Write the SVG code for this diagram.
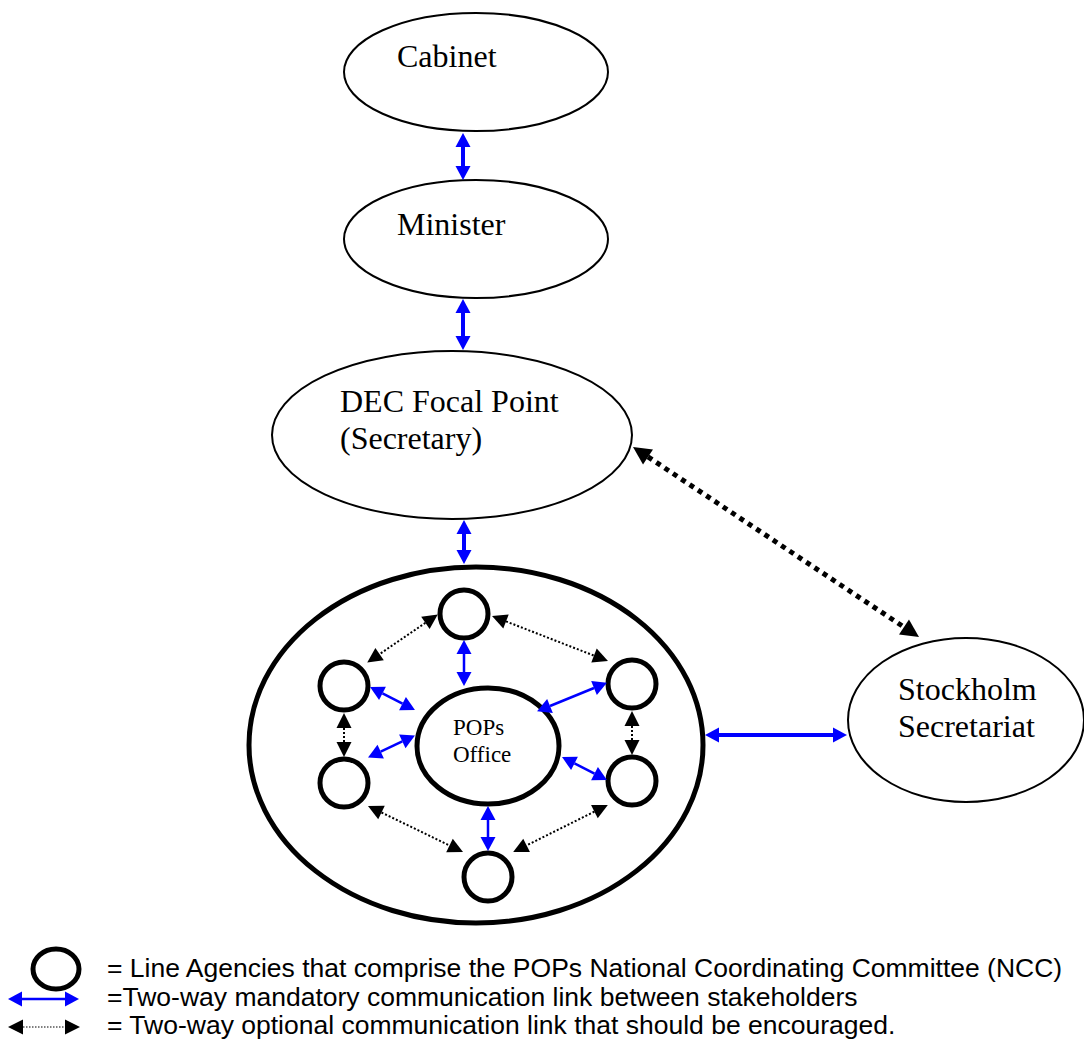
<svg xmlns="http://www.w3.org/2000/svg" width="1084" height="1046" viewBox="0 0 1084 1046">
<style>
.node{fill:#fff;stroke:#000;stroke-width:2}
.thick{fill:#fff;stroke:#000;stroke-width:5}
.lbl{font-family:"Liberation Serif","Times New Roman",serif;font-size:32px;fill:#000}
.small{font-family:"Liberation Serif","Times New Roman",serif;font-size:23px;fill:#000}
.leg{font-family:"Liberation Sans",Arial,sans-serif;font-size:26.5px;fill:#000}
.blue{stroke:#0000ff;stroke-width:4;fill:none;marker-start:url(#bh);marker-end:url(#bh)}
.blue2{stroke:#0000ff;stroke-width:2.5;fill:none;marker-start:url(#bh);marker-end:url(#bh)}
.dot{stroke:#000;stroke-width:2;stroke-dasharray:2 2;fill:none;marker-start:url(#kh);marker-end:url(#kh)}
.bigdot{stroke:#000;stroke-width:5;stroke-dasharray:5 5;fill:none;marker-start:url(#kh2);marker-end:url(#kh2)}
</style>
<defs>
<marker id="bh" markerUnits="userSpaceOnUse" markerWidth="15" markerHeight="15" refX="0" refY="7.5" orient="auto-start-reverse" overflow="visible"><path d="M0,0 L14,7.5 L0,15 z" fill="#0000ff"/></marker>
<marker id="kh" markerUnits="userSpaceOnUse" markerWidth="15" markerHeight="15" refX="0" refY="7.5" orient="auto-start-reverse" overflow="visible"><path d="M0,0 L15,7.5 L0,15 z" fill="#000"/></marker>
<marker id="kh2" markerUnits="userSpaceOnUse" markerWidth="18" markerHeight="18" refX="0" refY="9" orient="auto-start-reverse" overflow="visible"><path d="M0,0 L18,9 L0,18 z" fill="#000"/></marker>
</defs>
<rect width="1084" height="1046" fill="#fff"/>
<g id="cabinet"><ellipse class="node" cx="476" cy="72" rx="132" ry="59"/><text class="lbl" x="397" y="67">Cabinet</text></g>
<g id="minister"><ellipse class="node" cx="476" cy="239" rx="132" ry="59"/><text class="lbl" x="397" y="235">Minister</text></g>
<g id="dec"><ellipse class="node" cx="452" cy="435" rx="180" ry="84"/><text class="lbl" x="340" y="412">DEC Focal Point</text><text class="lbl" x="340" y="449">(Secretary)</text></g>
<g id="stockholm"><ellipse class="node" cx="966" cy="720" rx="118" ry="82"/><text class="lbl" x="898" y="700">Stockholm</text><text class="lbl" x="898" y="737">Secretariat</text></g>
<g id="ncc"><ellipse class="thick" cx="476" cy="745" rx="227" ry="178"/></g>
<g id="pops"><ellipse class="thick" cx="488" cy="746" rx="71" ry="58"/><text class="small" x="453" y="735">POPs</text><text class="small" x="453" y="762">Office</text></g>
<g id="agency-top"><circle class="thick" cx="464" cy="614" r="24"/></g>
<g id="agency-left-upper"><circle class="thick" cx="344" cy="686" r="24"/></g>
<g id="agency-left-lower"><circle class="thick" cx="344" cy="783" r="24"/></g>
<g id="agency-right-upper"><circle class="thick" cx="632" cy="684" r="24"/></g>
<g id="agency-right-lower"><circle class="thick" cx="632" cy="781" r="24"/></g>
<g id="agency-bottom"><circle class="thick" cx="488" cy="877" r="24"/></g>
<g id="connectors">
<line class="blue" x1="463" y1="147" x2="463" y2="166"/>
<line class="blue" x1="463" y1="313" x2="463" y2="336"/>
<line class="blue" x1="464" y1="534" x2="464" y2="550"/>
<line class="blue" x1="719" y1="735" x2="833" y2="735"/>
<line class="blue2" x1="464" y1="654" x2="464" y2="672"/>
<line class="blue2" x1="382.5" y1="693.4" x2="402.5" y2="703.6"/>
<line class="blue2" x1="380.7" y1="751.6" x2="402.3" y2="741.4"/>
<line class="blue2" x1="594" y1="688" x2="550" y2="706"/>
<line class="blue2" x1="574.5" y1="763.4" x2="594.5" y2="773.6"/>
<line class="blue2" x1="488" y1="820" x2="488" y2="837"/>
<line class="dot" x1="425.4" y1="622.9" x2="379.6" y2="654.1"/>
<line class="dot" x1="506" y1="621.4" x2="594" y2="655.6"/>
<line class="dot" x1="344" y1="728" x2="344" y2="742"/>
<line class="dot" x1="632" y1="726" x2="632" y2="740"/>
<line class="dot" x1="381.5" y1="812.5" x2="449.5" y2="845.5"/>
<line class="dot" x1="594.4" y1="811.6" x2="526.6" y2="845.4"/>
<line class="bigdot" x1="648" y1="456.9" x2="904" y2="627.1"/>
</g>
<g id="legend">
<ellipse class="thick" cx="56" cy="969" rx="23" ry="20"/>
<line class="blue2" x1="22" y1="999" x2="65" y2="999"/>
<line stroke="#000" stroke-width="1.2" stroke-dasharray="1.5 1.5" marker-start="url(#kh)" marker-end="url(#kh)" x1="23" y1="1027" x2="65" y2="1027"/>
<text class="leg" x="107" y="977">= Line Agencies that comprise the POPs National Coordinating Committee (NCC)</text>
<text class="leg" x="107" y="1006">=Two-way mandatory communication link between stakeholders</text>
<text class="leg" x="107" y="1034">= Two-way optional communication link that should be encouraged.</text>
</g>
</svg>
